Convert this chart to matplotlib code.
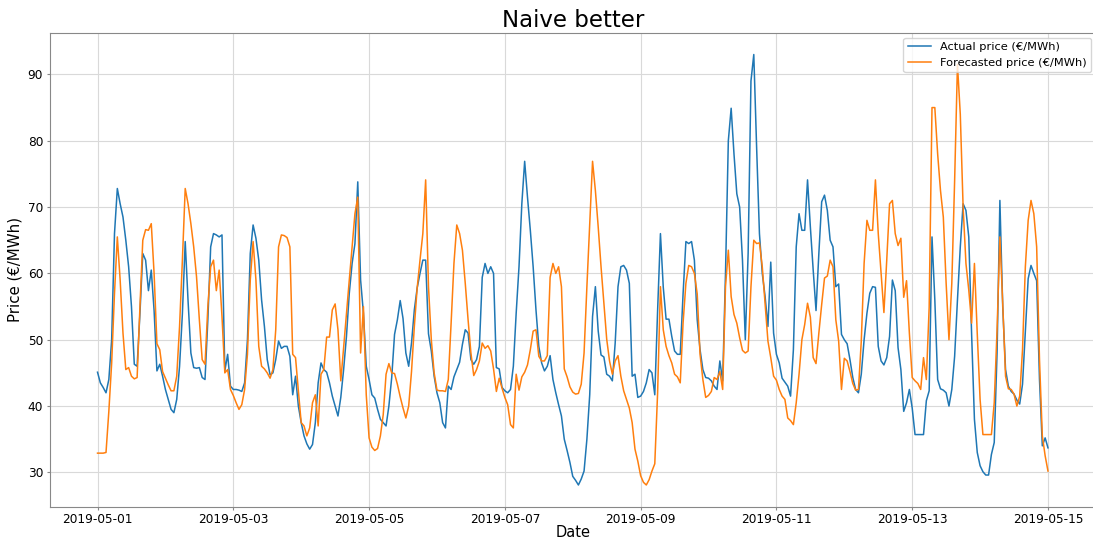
#Actual vs forecasted price, hourly, 1-15 May 2019

import matplotlib
matplotlib.use('Agg')
import matplotlib.pyplot as plt
import matplotlib.dates as mdates
import pandas as pd

#Hourly values, one row per day
actual = [
    45.1, 43.5, 42.8, 42, 44, 50, 66, 72.8, 70.5, 68.5, 65, 61, 55, 46.3, 46, 54, 63, 62, 57.4, 60.5, 54.4, 45.3, 46.3, 44.5,
    42.5, 41, 39.5, 39, 41, 46, 53.9, 64.8, 55.9, 48, 45.8, 45.7, 45.8, 44.3, 44, 53, 64, 66, 65.8, 65.5, 65.8, 45.3, 47.8, 43,
    42.5, 42.5, 42.4, 42.2, 43.5, 50, 63, 67.3, 65.3, 62, 56, 52, 47, 44.7, 45, 47, 49.8, 48.7, 49, 49, 47.5, 41.7, 44.5, 40,
    37.5, 35.5, 34.3, 33.5, 34.2, 37.5, 43.5, 46.5, 45.5, 45.1, 43.5, 41.5, 40, 38.5, 41.3, 45.5, 50.5, 57, 61.5, 64.5, 73.8, 59, 54, 46,
    44, 41.7, 41.2, 39.5, 38, 37.5, 37, 40, 44.3, 50.8, 53, 55.9, 53.2, 48, 46, 49.5, 54.5, 57.8, 60, 62, 62, 50.9, 48.3, 44.5,
    42, 40.5, 37.5, 36.7, 43, 42.5, 44.4, 45.5, 46.6, 49.3, 51.5, 51, 47, 46.3, 47, 49, 59.4, 61.5, 60, 61, 60, 45.8, 45.6, 42.8,
    42.3, 42, 42.5, 46, 54, 61, 70.5, 76.9, 71.5, 66.5, 61, 54.5, 49, 46.5, 45.3, 46, 47.6, 44, 42, 40.2, 38.5, 35, 33.3, 31.5,
    29.4, 28.8, 28.1, 29, 30.2, 35, 41.7, 53.5, 58, 51.3, 47.7, 47.4, 44.8, 44.5, 43.8, 49.5, 58, 61, 61.2, 60.5, 58.5, 44.5, 44.8, 41.3,
    41.5, 42.2, 43.5, 45.5, 45, 41.7, 54.4, 66, 57.9, 53.1, 53.1, 50.5, 48.3, 47.8, 47.8, 56.9, 64.8, 64.5, 64.8, 62, 53, 48.5, 45.5, 44.3,
    44.2, 43.8, 43, 42.5, 46.8, 43.8, 60, 80, 84.9, 78, 72, 70, 62, 50, 63, 89, 93, 79, 66, 60, 56.5, 52, 61.7, 51,
    47.8, 46.5, 44.2, 43.6, 43, 41.5, 48.5, 64, 69, 66.5, 66.5, 74.1, 67, 60.5, 54.4, 63, 70.8, 71.8, 69.5, 65, 64, 58, 58.4, 50.8,
    50, 49.4, 47, 44.3, 42.5, 42, 44.8, 50, 54, 57, 58, 57.9, 49, 46.8, 46.2, 47.3, 50.5, 59, 57.4, 48.8, 45.5, 39.2, 40.5, 42.5,
    39.7, 35.7, 35.7, 35.7, 35.7, 40.8, 42.3, 65.5, 56, 44, 42.6, 42.4, 42, 40, 42.5, 47.5, 56, 64, 70.5, 69.5, 65.5, 50.9, 38, 33,
    31, 30.1, 29.6, 29.6, 32.7, 34.5, 48, 71, 55, 45.5, 43, 42.2, 41.8, 40.9, 40.3, 43.3, 51.4, 59.2, 61.2, 60, 58.9, 44, 34, 35.2,
    33.7]

forecast = [
    32.9, 32.9, 32.9, 33, 39.2, 46.5, 57, 65.5, 59, 51, 45.5, 45.8, 44.5, 44.1, 44.3, 55, 65, 66.6, 66.5, 67.5, 60, 49.4, 48.5, 45.2,
    44.2, 43.2, 42.3, 42.3, 44.5, 52, 62, 72.8, 70.5, 67.5, 64, 59.5, 53, 47, 46.3, 55, 61, 62, 57.4, 60.5, 53.5, 45, 45.5, 42.5,
    41.6, 40.5, 39.5, 40.2, 42.5, 47.8, 59, 64.8, 59, 49, 46, 45.6, 45, 44.2, 45.5, 51.5, 64, 65.8, 65.7, 65.4, 64, 47.8, 47.3, 42.3,
    37.5, 37, 35.5, 36.7, 40.5, 41.7, 37, 44.8, 45.5, 50.4, 50.4, 54.5, 55.4, 51.5, 43.8, 48.8, 54, 59, 64, 69, 71.5, 48, 55, 41.7,
    35.2, 33.8, 33.3, 33.6, 35.5, 38.7, 44.8, 46.4, 45, 44.9, 43.3, 41.4, 39.7, 38.2, 40, 45.2, 52, 57.8, 62, 66, 74.1, 58, 50, 45,
    42.4, 42.3, 42.3, 42.2, 44, 52.5, 61.5, 67.3, 66, 63.5, 58.5, 53, 48, 44.6, 45.5, 46.8, 49.5, 48.7, 49.1, 48.3, 45.6, 42.2, 44.2, 42.7,
    41.3, 40.2, 37.2, 36.7, 44.8, 42.4, 44.4, 45.1, 46.2, 48.5, 51.3, 51.5, 47.5, 46.8, 46.8, 47.6, 59.4, 61.5, 60, 61, 58, 45.6, 44.4, 42.9,
    42.1, 41.8, 41.9, 43.3, 48, 58, 67.5, 76.9, 72.5, 67, 61, 55.5, 50.1, 46.8, 44.8, 46.8, 47.6, 44.5, 42.3, 41, 39.7, 37.5, 33.5, 31.7,
    29.5, 28.5, 28.1, 28.9, 30.2, 31.3, 42, 58, 51.5, 49, 47.6, 46.5, 44.8, 44.4, 43.5, 52.5, 58.5, 61.2, 61, 60, 56.9, 47.8, 44, 41.3,
    41.6, 42.2, 44.3, 44, 45.2, 42.5, 58, 63.5, 56.5, 53.8, 52.5, 50.3, 48.4, 48, 48.3, 58, 65, 64.5, 64.6, 61, 55.5, 49.8, 47.3, 44.5,
    43.9, 42.5, 41.5, 41, 38.2, 37.8, 37.2, 40.5, 44.8, 50, 52.3, 55.5, 53.4, 47.3, 46.4, 51, 55.3, 59.3, 59.6, 62, 61, 53, 49.8, 42.5,
    47.2, 46.8, 45.2, 43.4, 42.4, 42.5, 49.8, 61.5, 68, 66.5, 66.5, 74.1, 66, 60, 54.1, 62, 70.5, 71, 66, 64.2, 65.3, 56.4, 58.9, 51,
    44.3, 43.8, 43.4, 42.5, 47.3, 44, 54.9, 85, 85, 78, 72.5, 68.5, 58.5, 50, 58.5, 74, 91.5, 84, 70, 61.5, 57.5, 52.5, 61.5, 50.9,
    41, 35.7, 35.7, 35.7, 35.7, 40.5, 51.5, 65.5, 55.5, 44.5, 42.6, 42.5, 41.8, 40, 41.5, 48.5, 61, 68, 71, 69, 64, 47, 35.5, 32.5,
    30.2]

dates = pd.date_range('2019-05-01 00:00', periods=len(actual), freq='h')
xticks = pd.date_range('2019-05-01', '2019-05-15', freq='2D')

#make Plot
fig = plt.figure(figsize=(10.93, 5.40), dpi=100)
ax = fig.add_axes([50/1093., 33.5/540., 1045.5/1093., 473.5/540.])

ax.plot(dates, actual, color='tab:blue', lw=1.1, label='Actual price (€/MWh)')
ax.plot(dates, forecast, color='tab:orange', lw=1.1, label='Forecasted price (€/MWh)')

ax.set_xticks(xticks)
ax.xaxis.set_major_formatter(mdates.DateFormatter('%Y-%m-%d'))
ax.set_yticks([30, 40, 50, 60, 70, 80, 90])

ax.grid(True, color='#d9d9d9', linewidth=0.8)
ax.tick_params(labelsize=8.7, length=2.5, pad=2.5, color='#888888')
for s in ax.spines.values():
    s.set_color('#888888')

ax.set_title('Naive better', fontsize=16.5, pad=4.5)
ax.set_xlabel('Date', fontsize=10.5, labelpad=-1)
ax.set_ylabel('Price (€/MWh)', fontsize=10.8, labelpad=4)
ax.legend(loc='upper right', fontsize=8.2, borderaxespad=0.4)

plt.savefig('out.png', dpi=100)
